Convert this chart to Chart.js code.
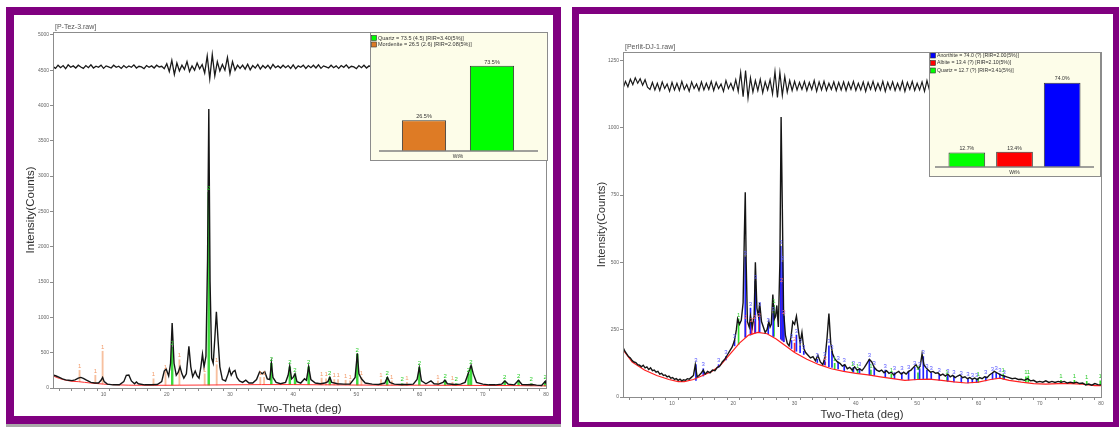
<!DOCTYPE html>
<html>
<head>
<meta charset="utf-8">
<script src="https://cdn.jsdelivr.net/npm/chart.js@4/dist/chart.umd.min.js"></script>
<style>
  body { margin: 0; width: 1119px; height: 427px; background: #fff; overflow: hidden; position: relative; font-family: "Liberation Sans", Arial, sans-serif; }
  .panel { position: absolute; box-sizing: border-box; border: solid #800080; background: #fff; }
  #panelL { left: 6px; top: 7px; width: 555px; height: 417px; border-width: 8px; }
  #panelR { left: 572px; top: 7px; width: 548px; height: 422px; border-width: 7px; }
  .panel canvas.main { position: absolute; left: 0; top: 0; }
  .inset { position: absolute; box-sizing: border-box; border: 1px solid #8c8c8c; background: #fdfde9; }
  #insetL { left: 356px; top: 17px; width: 178px; height: 129px; }
  #insetR { left: 350px; top: 38px; width: 172px; height: 125px; }
  .inset canvas { position: absolute; left: 0; top: 0; }
  #strip { position: absolute; left: 6px; top: 424px; width: 555px; height: 3px; background: #a9a9a9; }
</style>
</head>
<body>
<div class="panel" id="panelL">
  <canvas class="main" id="chartL" width="539" height="401"></canvas>
  <div class="inset" id="insetL"><canvas id="barL" width="176" height="127"></canvas></div>
</div>
<div id="strip"></div>
<div class="panel" id="panelR">
  <canvas class="main" id="chartR" width="534" height="408"></canvas>
  <div class="inset" id="insetR"><canvas id="barR" width="170" height="123"></canvas></div>
</div>
<script>
// ---- left sample: P-Tez-3 ----
var tezObserved = [[2,185],[2.5,170],[3,150],[3.5,130],[4,115],[4.5,110],[5,105],[5.5,115],[6,140],[6.4,150],[6.8,135],[7.3,110],[8,80],[8.6,70],[9.2,70],[9.6,110],[9.85,150],[10.1,90],[10.6,55],[11.5,45],[12.5,45],[13.2,90],[13.6,180],[14,185],[14.4,100],[14.9,60],[15.2,85],[15.5,60],[16.5,45],[17.5,45],[18.5,50],[19.2,90],[19.6,240],[19.9,270],[20.3,170],[20.6,350],[20.85,920],[21.15,350],[21.5,180],[21.8,220],[22.1,300],[22.4,200],[22.7,140],[23.1,200],[23.5,590],[23.8,300],[24.1,160],[24.5,240],[24.8,170],[25.1,140],[25.4,300],[25.65,480],[25.9,300],[26.2,450],[26.45,1800],[26.65,3950],[26.85,1500],[27.1,420],[27.35,350],[27.6,700],[27.85,1080],[28.1,700],[28.4,300],[28.8,120],[29.3,100],[29.7,200],[29.9,270],[30.2,180],[30.5,230],[30.8,250],[31.1,150],[31.5,100],[32,80],[32.5,110],[33,70],[33.6,70],[34.2,120],[34.7,230],[35.1,200],[35.5,230],[35.9,130],[36.3,120],[36.55,350],[36.8,150],[37.3,80],[38,60],[38.8,80],[39.2,180],[39.45,310],[39.75,130],[40,150],[40.3,200],[40.6,90],[41.2,70],[41.8,130],[42.1,110],[42.45,300],[42.8,120],[43.5,70],[44.3,60],[45,70],[45.5,90],[45.8,150],[46.1,80],[47,60],[48,55],[49,55],[49.8,150],[50.15,490],[50.4,200],[50.8,130],[51.4,70],[52.5,55],[53.5,50],[54.5,70],[54.9,150],[55.3,80],[56,55],[57,50],[58,50],[59,55],[59.6,120],[59.95,290],[60.3,100],[61,60],[61.8,100],[62.3,60],[63,55],[63.7,80],[64,110],[64.4,60],[65.5,50],[66.5,55],[67.2,80],[67.75,220],[68.15,320],[68.5,200],[69,80],[70,55],[71,45],[72,45],[73,55],[73.5,100],[74,55],[75,45],[75.65,110],[76.2,50],[77,45],[77.8,50],[78.5,40],[79.3,35],[79.9,95],[80,60]];
var tezBackground = [[2,170],[3,135],[4,110],[5,95],[6,90],[7,80],[8,70],[10,55],[12,45],[14,40],[18,38],[22,40],[26,42],[30,45],[35,48],[40,48],[45,45],[50,42],[55,40],[60,40],[65,38],[70,36],[75,34],[80,30]];
// difference curve, read every 0.4 deg from 2 deg
var tezDiffStart = 2, tezDiffStep = 0.4;
var tezDifference = [4550,4525,4570,4535,4565,4520,4575,4540,4560,4530,4570,4545,4525,4565,4535,4575,4530,4555,4540,4570,4525,4560,4545,4530,4570,4540,4555,4525,4565,4535,4560,4540,4575,4530,4555,4545,4520,4565,4540,4560,4530,4570,4545,4555,
  4520,4590,4480,4640,4440,4600,4490,4570,4510,4620,4480,4560,4500,4600,4520,4580,4460,4700,4380,4720,4420,4620,4490,4580,4500,4680,4450,4620,4500,4570,
  4525,4570,4515,4585,4505,4565,4530,4580,4515,4565,4530,4570,4520,4580,4535,
  4560,4530,4570,4535,4565,4525,4575,4520,4560,4540,4570,4525,4565,4535,4570,4530,4575,4525,4560,4545,4530,4570,4535,4560,4525,4565,4540,4575,4530,4555,4545,4520,4565,4535,4570,4530,4560,4540,4570,4545];
// phase sticks: [2theta, base, top]
var tezQuartzSticks = [[20.86,40,580],[26.64,42,2770],[36.54,48,350],[39.47,48,300],[40.29,48,200],[42.45,47,300],[45.79,45,150],[50.14,42,480],[54.87,40,150],[57.24,40,60],[59.96,40,290],[64.04,38,110],[65.79,38,60],[67.74,37,200],[68.14,37,310],[73.47,35,100],[75.66,34,110],[77.67,32,60],[79.88,30,90]];
var tezMordeniteSticks = [[6.2,90,250],[8.7,65,180],[9.85,58,520],[17.9,38,130],[19.8,39,240],[22.0,40,400],[26.0,42,200],[27.9,43,330],[34.8,48,150],[35.4,48,150],[44.5,45,140],[45.2,45,130],[46.5,44,120],[47.1,44,120],[48.3,43,110],[49.0,43,100],[50.8,42,150],[53.9,41,120],[55.6,40,100],[58.0,40,80],[62.9,39,100],[65.2,38,80]];
var tezYTicks = [0, 500, 1000, 1500, 2000, 2500, 3000, 3500, 4000, 4500, 5000];
var tezPhases = ['Mordenite', 'Quartz'];
var tezWt = [26.5, 73.5];
var tezLegend = ['Quartz = 73.5 (4.5) [RIR=3.40(5%)]', 'Mordenite = 26.5 (2.6) [RIR=2.08(5%)]'];

// ---- right sample: Perlit-DJ-1 ----
var perObserved = [[2,185],[2.3,170],[2.6,160],[2.9,150],[3.2,145],[3.5,135],[3.8,130],[4.1,128],[4.4,120],[4.7,118],[5,112],[5.3,118],[5.6,108],[5.9,112],[6.2,102],[6.5,108],[6.8,98],[7.1,100],[7.4,92],[7.7,95],[8,85],[8.3,88],[8.6,80],[8.9,82],[9.2,75],[9.5,78],[9.8,70],[10.1,72],[10.4,65],[10.7,68],[11,62],[11.3,66],[11.6,60],[11.9,64],[12.2,62],[12.5,68],[12.8,66],[13.1,72],[13.5,80],[13.8,120],[14.1,75],[14.4,80],[14.8,90],[15.1,100],[15.4,85],[15.8,95],[16.2,90],[16.6,100],[17,98],[17.4,110],[17.8,115],[18.2,130],[18.6,140],[19,155],[19.4,170],[19.8,185],[20.2,210],[20.5,250],[20.7,290],[21,270],[21.3,285],[21.6,350],[21.8,600],[21.95,760],[22.1,500],[22.3,280],[22.6,260],[22.8,300],[23.1,260],[23.4,300],[23.6,500],[23.85,330],[24.1,300],[24.3,350],[24.6,280],[24.9,260],[25.2,240],[25.5,250],[25.8,280],[26,260],[26.2,270],[26.45,380],[26.7,290],[26.9,300],[27.1,340],[27.35,260],[27.6,500],[27.8,1040],[28,700],[28.2,320],[28.5,230],[28.8,200],[29.1,190],[29.4,220],[29.7,280],[30,270],[30.3,300],[30.6,250],[30.9,200],[31.2,240],[31.5,180],[31.8,165],[32.2,155],[32.6,145],[33,150],[33.4,135],[33.8,155],[34.2,130],[34.6,120],[35,150],[35.3,220],[35.6,310],[35.9,200],[36.2,160],[36.6,140],[37,130],[37.4,125],[37.8,115],[38.2,120],[38.6,105],[39,110],[39.4,100],[39.8,112],[40.2,100],[40.6,105],[41,98],[41.4,110],[41.8,125],[42.2,140],[42.6,130],[43,110],[43.4,100],[43.8,95],[44.2,100],[44.6,90],[45,98],[45.4,88],[45.8,92],[46.2,82],[46.6,90],[47,95],[47.4,85],[47.8,92],[48.2,85],[48.6,95],[49,100],[49.4,110],[49.8,120],[50.2,105],[50.5,115],[50.8,160],[51.1,120],[51.4,110],[51.8,100],[52.2,92],[52.6,95],[53,88],[53.4,90],[53.8,80],[54.2,85],[54.6,78],[55,85],[55.4,75],[55.8,80],[56.2,72],[56.6,78],[57,82],[57.4,72],[57.8,75],[58.2,68],[58.6,72],[59,66],[59.4,70],[59.8,65],[60.2,72],[60.6,68],[61,75],[61.4,72],[61.8,82],[62.2,88],[62.6,95],[63,90],[63.4,85],[63.8,80],[64.2,78],[64.6,75],[65,72],[65.5,68],[66,70],[66.5,65],[67,66],[67.5,62],[68,68],[68.5,60],[69,62],[69.5,55],[70,58],[70.5,55],[71,60],[71.5,54],[72,58],[72.5,54],[73,58],[73.5,55],[74,58],[74.5,52],[75,55],[75.5,52],[76,55],[76.5,50],[77,52],[77.5,45],[78,48],[78.5,44],[79,50],[79.5,46],[80,45]];
var perBackground = [[2,175],[3.5,130],[5.5,100],[7.5,80],[9.5,65],[11,57],[12,57],[13.5,65],[15,80],[16.5,95],[18,120],[19.5,160],[21,200],[22.5,230],[24,240],[25.5,235],[27,215],[28.5,190],[30,165],[32,140],[34,120],[36,105],[38,95],[40,88],[42,82],[44,75],[46,68],[48,62],[50,65],[52,66],[54,62],[56,56],[58,52],[60,55],[62,65],[63.5,70],[65,62],[67,55],[69,50],[71,48],[73,50],[75,50],[77,48],[79,42],[80,42]];
var perDiffStart = 2, perDiffStep = 0.4;
var perDifference = [1145,1172,1152,1180,1160,1185,1165,1182,1158,1178,1150,1142,1168,1140,1165,1138,1170,1145,1162,1135,1168,1140,1165,1138,1172,1142,1160,1135,1170,1145,1162,1138,1170,1140,1165,1142,1172,1138,1168,1145,1162,1135,1175,1145,
  1165,1140,1178,1135,1205,1115,1212,1110,1185,1132,1175,1138,1180,1130,1170,1140,1178,1125,1208,1112,1205,1120,1190,1132,1175,1138,1172,1140,1168,1142,
  1172,1138,1168,1142,1175,1135,1170,1140,1172,1138,1165,1142,1170,1138,1168,
  1140,1170,1138,1168,1142,1172,1138,1165,1140,1170,1135,1168,1142,1172,1138,1165,1140,1172,1135,1168,1142,1170,1138,1165,1140,1172,1135,1168,1142,1172,1138,1165,1140,1170,1135,1175,1140,1168,1138,1165];
var perAnorthiteSticks = [[13.9,62,120],[15.1,78,105],[17.6,110,120],[18.8,138,150],[20.2,190,210],[21.95,222,520],[22.8,230,330],[23.6,238,430],[24.3,240,330],[25.7,235,270],[26.5,225,310],[27.75,215,560],[28.0,210,500],[28.25,205,300],[29.5,180,210],[30.3,170,230],[30.9,165,190],[31.5,158,170],[33.7,128,140],[34.9,120,145],[35.6,113,190],[36.1,110,170],[37.1,104,130],[38.1,98,120],[39.6,92,110],[40.6,88,105],[42.2,82,140],[43.0,80,110],[44.8,74,100],[46.3,68,90],[47.5,66,90],[48.6,63,95],[49.6,64,110],[50.4,65,105],[51.0,66,150],[51.6,66,100],[52.3,65,90],[53.6,62,85],[55.0,58,80],[56.0,56,78],[57.2,53,72],[58.3,52,68],[59.0,53,66],[59.7,54,66],[61.2,60,75],[62.3,66,88],[62.9,69,90],[63.5,70,85],[64.2,66,78]];
var perAlbiteSticks = [[22.0,222,280],[23.0,232,270],[23.5,238,280],[24.2,240,290],[27.9,212,420],[28.2,205,300],[30.0,168,200],[35.0,118,130]];
var perQuartzSticks = [[20.86,195,290],[26.64,225,340],[36.54,105,125],[39.47,92,105],[40.29,88,100],[42.45,82,100],[45.79,70,85],[50.14,65,90],[54.87,60,75],[59.96,54,70],[64.04,66,85],[67.74,56,75],[68.14,55,78],[73.47,50,62],[75.66,50,62],[77.67,48,58],[79.88,42,60]];
var perYTicks = [0, 250, 500, 750, 1000, 1250];
var perPhases = ['Quartz', 'Albite', 'Anorthite'];
var perWt = [12.7, 13.4, 74.0];
var perLegend = ['Anorthite = 74.0 (?) [RIR=2.00(5%)]', 'Albite = 13.4 (?) [RIR=2.10(5%)]', 'Quartz = 12.7 (?) [RIR=3.41(5%)]'];

var phaseColors = { Quartz: '#00ff00', Mordenite: '#de7b25', Albite: '#ff0000', Anorthite: '#0000ff' };
var FONT = '"Liberation Sans", Arial, sans-serif';

function toPoints(pairs) {
    return pairs.map(function (p) { return { x: p[0], y: p[1] }; });
}
function gridPoints(start, step, values) {
    return values.map(function (v, i) { return { x: +(start + i * step).toFixed(2), y: v }; });
}
function toSticks(list) {
    return list.map(function (s) { return { x: s[0], y: [s[1], s[2]] }; });
}

// frame round the plot area plus the file name above it
var plotFrame = {
    id: 'plotFrame',
    afterDraw: function (chart, args, opts) {
        var a = chart.chartArea, ctx = chart.ctx;
        ctx.save();
        ctx.strokeStyle = '#8c8c8c';
        ctx.lineWidth = 1;
        ctx.strokeRect(Math.round(a.left) + 0.5, Math.round(a.top) + 0.5, Math.round(a.right - a.left), Math.round(a.bottom - a.top));
        ctx.font = '7px ' + FONT;
        ctx.fillStyle = '#555';
        ctx.textBaseline = 'bottom';
        ctx.fillText(opts.fileName, a.left + 2, a.top - 1);
        ctx.restore();
    }
};

// small phase number over each stick
var stickTags = {
    id: 'stickTags',
    afterDatasetsDraw: function (chart) {
        var ctx = chart.ctx;
        ctx.save();
        ctx.font = '6px ' + FONT;
        ctx.textAlign = 'center';
        ctx.textBaseline = 'bottom';
        chart.data.datasets.forEach(function (ds, i) {
            if (!ds.tag) return;
            ctx.fillStyle = ds.tagColor;
            chart.getDatasetMeta(i).data.forEach(function (bar) {
                ctx.fillText(ds.tag, bar.x, Math.min(bar.y, bar.base) - 1);
            });
        });
        ctx.restore();
    }
};

function stickSet(label, list, color, tag, tagColor, order, thick) {
    return {
        type: 'bar', label: label, data: toSticks(list),
        backgroundColor: color, borderWidth: 0, barThickness: thick,
        grouped: false, order: order, tag: tag, tagColor: tagColor
    };
}

function lineSet(label, data, color, width, order) {
    return {
        type: 'line', label: label, data: data, borderColor: color, borderWidth: width,
        pointRadius: 0, tension: 0, fill: false, order: order
    };
}

function mainChart(id, datasets, yMax, yTicks, fileName, pad, yWidth, xHeight, titleSize) {
    return new Chart(document.getElementById(id), {
        type: 'line',
        data: { datasets: datasets },
        plugins: [plotFrame, stickTags],
        options: {
            responsive: false,
            animation: false,
            events: [],
            layout: { padding: pad },
            plugins: { legend: { display: false }, tooltip: { enabled: false }, plotFrame: { fileName: fileName } },
            scales: {
                x: {
                    type: 'linear', min: 2, max: 80, offset: false,
                    grid: { drawOnChartArea: false, tickLength: 3, color: '#8c8c8c' },
                    border: { color: '#8c8c8c' },
                    ticks: {
                        stepSize: 2, autoSkip: false, maxRotation: 0, padding: 1,
                        font: { size: 5, family: FONT }, color: '#666',
                        callback: function (v) { return v % 10 === 0 ? String(v) : ''; }
                    },
                    title: { display: true, text: 'Two-Theta (deg)', font: { size: titleSize, family: FONT }, color: '#333', padding: { top: 0, bottom: 0 } },
                    afterFit: function (s) { s.height = xHeight; }
                },
                y: {
                    min: 0, max: yMax,
                    grid: { drawOnChartArea: false, tickLength: 3, color: '#8c8c8c' },
                    border: { color: '#8c8c8c' },
                    afterBuildTicks: function (s) { s.ticks = yTicks.map(function (v) { return { value: v }; }); },
                    ticks: {
                        autoSkip: false, padding: 1, font: { size: 5, family: FONT }, color: '#666',
                        callback: function (v) { return String(v); }
                    },
                    title: { display: true, text: 'Intensity(Counts)', font: { size: titleSize, family: FONT }, color: '#333', padding: { top: 0, bottom: 0 } },
                    afterFit: function (s) { s.width = yWidth; }
                }
            }
        }
    });
}

mainChart('chartL', [
    lineSet('Difference', gridPoints(tezDiffStart, tezDiffStep, tezDifference), '#1a1a1a', 1.3, 1),
    lineSet('Observed', toPoints(tezObserved), '#151515', 1.4, 2),
    lineSet('Background', toPoints(tezBackground), '#ff3030', 1, 3),
    stickSet('Quartz', tezQuartzSticks, 'rgba(40,215,40,0.9)', '2', '#22cc22', 4, 1.8),
    stickSet('Mordenite', tezMordeniteSticks, 'rgba(240,140,80,0.55)', '1', '#f29a68', 5, 1.2)
], 5040, tezYTicks, '[P-Tez-3.raw]', { top: 17, right: 7, left: 10, bottom: 0 }, 29, 28, 11.5);

mainChart('chartR', [
    lineSet('Difference', gridPoints(perDiffStart, perDiffStep, perDifference), '#1a1a1a', 1.2, 1),
    lineSet('Observed', toPoints(perObserved), '#151515', 1.4, 2),
    lineSet('Background', toPoints(perBackground), '#ff2020', 1.2, 3),
    stickSet('Anorthite', perAnorthiteSticks, '#2020ff', '3', '#5a5aff', 4, 1),
    stickSet('Albite', perAlbiteSticks, '#ff3030', '2', '#ff6a6a', 5, 1),
    stickSet('Quartz', perQuartzSticks, '#30dd30', '1', '#30cc30', 6, 1)
], 1281, perYTicks, '[Perlit-DJ-1.raw]', { top: 38, right: 12, left: 16, bottom: 0 }, 28, 25, 11.3);

// ---- inset Wt% bar charts ----
var insetDecor = {
    id: 'insetDecor',
    afterDraw: function (chart, args, opts) {
        var ctx = chart.ctx, a = chart.chartArea;
        var yScale = chart.scales.y;
        ctx.save();
        // base line
        ctx.strokeStyle = '#808080';
        ctx.lineWidth = 1.5;
        ctx.beginPath();
        ctx.moveTo(a.left - opts.lineOut[0], yScale.getPixelForValue(0));
        ctx.lineTo(a.right + opts.lineOut[1], yScale.getPixelForValue(0));
        ctx.stroke();
        // value labels over bars
        ctx.font = opts.fontSize + 'px ' + FONT;
        ctx.fillStyle = '#333';
        ctx.textAlign = 'center';
        ctx.textBaseline = 'bottom';
        var vals = chart.data.datasets[0].data;
        chart.getDatasetMeta(0).data.forEach(function (bar, i) {
            ctx.fillText(vals[i].toFixed(1) + '%', bar.x, bar.y - 1);
        });
        // legend
        ctx.textAlign = 'left';
        ctx.textBaseline = 'middle';
        opts.legend.forEach(function (text, i) {
            var y = opts.legendTop + i * opts.legendGap;
            var name = text.split(' ')[0];
            ctx.fillStyle = phaseColors[name];
            ctx.fillRect(0.5, y - 2.5, 5, 5);
            ctx.strokeStyle = '#333';
            ctx.lineWidth = 0.6;
            ctx.strokeRect(0.5, y - 2.5, 5, 5);
            ctx.fillStyle = '#333';
            ctx.fillText(text, 7, y);
        });
        ctx.restore();
    }
};

function insetChart(id, phases, wt, pad, barPct, decor) {
    return new Chart(document.getElementById(id), {
        type: 'bar',
        data: {
            labels: phases,
            datasets: [{
                data: wt,
                backgroundColor: phases.map(function (p) { return phaseColors[p]; }),
                borderColor: '#3a3a3a', borderWidth: 1,
                categoryPercentage: 1, barPercentage: barPct
            }]
        },
        plugins: [insetDecor],
        options: {
            responsive: false,
            animation: false,
            events: [],
            layout: { padding: pad },
            plugins: { legend: { display: false }, tooltip: { enabled: false }, insetDecor: decor },
            scales: {
                x: {
                    grid: { display: false }, border: { display: false },
                    ticks: { display: false },
                    title: { display: true, text: 'Wt%', font: { size: 5, family: FONT }, color: '#333', padding: 0 },
                    afterFit: function (s) { s.height = 9; }
                },
                y: { display: false, min: 0, max: 100 }
            }
        }
    });
}

insetChart('barL', tezPhases, tezWt, { top: 2, left: 19, right: 21, bottom: 0 }, 0.65,
    { legend: tezLegend, legendTop: 5, legendGap: 6.5, lineOut: [11, 12], fontSize: 5.5 });
insetChart('barR', perPhases, perWt, { top: 0, left: 13, right: 14, bottom: 0 }, 0.77,
    { legend: perLegend, legendTop: 2.5, legendGap: 7.5, lineOut: [8, 8], fontSize: 5.2 });
</script>
</body>
</html>
